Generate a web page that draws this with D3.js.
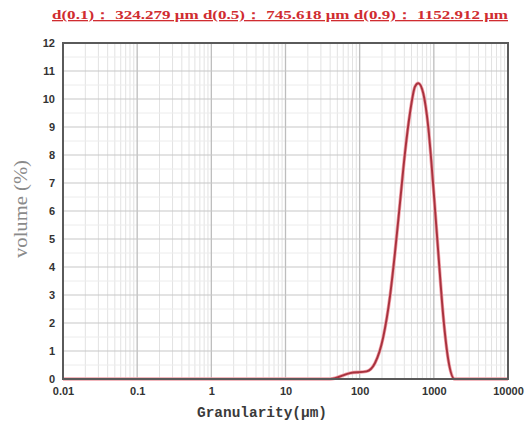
<!DOCTYPE html>
<html lang="en">
<head>
    <meta charset="UTF-8">
    <title>Granularity distribution</title>
    <script type="text/javascript" src="https://cdn.jsdelivr.net/npm/d3@7"></script>
    <style>
        body { margin: 0; background: #fff; }
        .axis text {
            font-family: "Liberation Sans", Arial, sans-serif;
            font-size: 11px;
            font-weight: bold;
            fill: #333;
        }
    </style>
</head>
<body>
    <script type="text/javascript">
        // size (um) and volume (%)
        let sizes = [0.01, 40, 74, 124, 161, 208, 256, 299, 350, 408, 477, 557, 617, 721, 841, 984, 1149, 1341, 1567, 1900, 10000]
        let volumes = [0, 0, 0.21, 0.27, 0.57, 1.5, 2.94, 4.5, 6.3, 8.07, 9.5, 10.44, 10.56, 10.2, 9.0, 6.87, 4.5, 2.23, 0.68, 0, 0]
        let xTicks = [0.01, 0.1, 1, 10, 100, 1000, 10000]
        let yTicks = [0, 1, 2, 3, 4, 5, 6, 7, 8, 9, 10, 11, 12]
        let titleText = "d(0.1)：  324.279 μm  d(0.5)：  745.618 μm  d(0.9)：  1152.912 μm"

        let w = 532, h = 426
        let plotL = 63, plotR = 508, plotT = 43, plotB = 379

        let svg = d3.select("body")
            .append("svg")
            .attr("width", w)
            .attr("height", h)

        let xScale = d3.scaleLog()
            .domain([0.01, 10000])
            .range([plotL, plotR])

        let yScale = d3.scaleLinear()
            .domain([0, 12])
            .range([plotB, plotT])

        // minor grid
        let minorX = []
        for (let e = -2; e < 4; e++) {
            for (let m = 2; m < 10; m++) minorX.push(m * Math.pow(10, e))
        }
        svg.append("g").selectAll("line")
            .data(minorX)
            .enter()
            .append("line")
            .attr("x1", (d) => xScale(d))
            .attr("x2", (d) => xScale(d))
            .attr("y1", plotT)
            .attr("y2", plotB)
            .attr("stroke", "#e2e2e2")
            .attr("stroke-width", 1)

        let minorY = d3.range(0.5, 12, 1)
        svg.append("g").selectAll("line")
            .data(minorY)
            .enter()
            .append("line")
            .attr("x1", plotL)
            .attr("x2", plotR)
            .attr("y1", (d) => yScale(d))
            .attr("y2", (d) => yScale(d))
            .attr("stroke", "#ececec")
            .attr("stroke-width", 1)

        // major grid
        svg.append("g").selectAll("line")
            .data(xTicks)
            .enter()
            .append("line")
            .attr("x1", (d) => xScale(d))
            .attr("x2", (d) => xScale(d))
            .attr("y1", plotT)
            .attr("y2", plotB)
            .attr("stroke", "#bdbdbd")
            .attr("stroke-width", 1.3)

        svg.append("g").selectAll("line")
            .data(yTicks)
            .enter()
            .append("line")
            .attr("x1", plotL)
            .attr("x2", plotR)
            .attr("y1", (d) => yScale(d))
            .attr("y2", (d) => yScale(d))
            .attr("stroke", "#c8c8c8")
            .attr("stroke-width", 1.2)

        // curve
        let line = d3.line()
            .x((d, i) => xScale(sizes[i]))
            .y((d) => yScale(d))
            .curve(d3.curveMonotoneX)

        svg.append("path")
            .datum(volumes)
            .attr("d", line)
            .attr("fill", "none")
            .attr("stroke", "#f0a0a8")
            .attr("stroke-width", 3.4)

        svg.append("path")
            .datum(volumes)
            .attr("d", line)
            .attr("fill", "none")
            .attr("stroke", "#a8323e")
            .attr("stroke-width", 1.9)

        // frame
        svg.append("rect")
            .attr("x", plotL)
            .attr("y", plotT)
            .attr("width", plotR - plotL)
            .attr("height", plotB - plotT)
            .attr("fill", "none")
            .attr("stroke", "#5a5a5a")
            .attr("stroke-width", 2)

        // axes
        let xAxis = d3.axisBottom(xScale)
            .tickValues(xTicks)
            .tickFormat((d) => String(d))
            .tickSize(0)
            .tickPadding(8)

        let yAxis = d3.axisLeft(yScale)
            .tickValues(yTicks)
            .tickFormat(d3.format("d"))
            .tickSize(0)
            .tickPadding(8)

        svg.append("g")
            .attr("class", "axis")
            .attr("transform", "translate(0," + plotB + ")")
            .call(xAxis)
            .call((g) => g.select(".domain").remove())

        svg.append("g")
            .attr("class", "axis")
            .attr("transform", "translate(" + plotL + ",0)")
            .call(yAxis)
            .call((g) => g.select(".domain").remove())

        // title
        svg.append("text")
            .attr("x", 52)
            .attr("y", 19)
            .attr("textLength", 456)
            .attr("lengthAdjust", "spacingAndGlyphs")
            .attr("font-family", "Liberation Serif, serif")
            .attr("font-weight", "bold")
            .attr("font-size", "13px")
            .attr("fill", "#d02c30")
            .attr("text-decoration", "underline")
            .text(titleText)

        // axis labels
        svg.append("text")
            .attr("x", 262)
            .attr("y", 417)
            .attr("text-anchor", "middle")
            .attr("textLength", 130)
            .attr("lengthAdjust", "spacingAndGlyphs")
            .attr("font-family", "Liberation Mono, monospace")
            .attr("font-weight", "bold")
            .attr("font-size", "14px")
            .attr("fill", "#3a3a3a")
            .text("Granularity(μm)")

        svg.append("text")
            .attr("transform", "translate(27,209) rotate(-90)")
            .attr("text-anchor", "middle")
            .attr("textLength", 98)
            .attr("lengthAdjust", "spacingAndGlyphs")
            .attr("font-family", "Liberation Serif, serif")
            .attr("font-size", "18px")
            .attr("fill", "#8a8a8a")
            .text("volume (%)")
    </script>
</body>
</html>
